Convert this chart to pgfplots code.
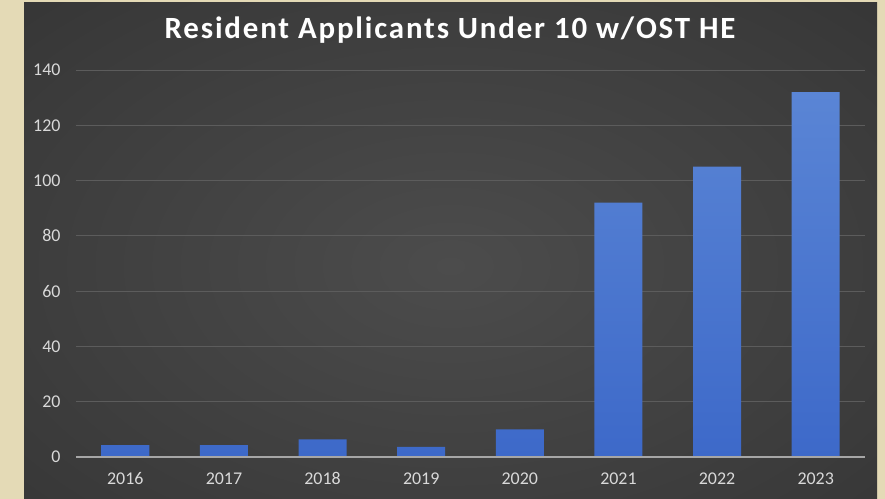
\documentclass[border=0pt]{standalone}
\usepackage{fontspec}
\setmainfont{Carlito}
\usepackage{pgfplots}
\pgfplotsset{compat=1.18}
\definecolor{beige}{HTML}{E4DAB6}
\definecolor{panelin}{HTML}{4C4C4C}
\definecolor{panelmid}{HTML}{3A3A3A}
\definecolor{panelout}{HTML}{1E1E1E}
\definecolor{gridc}{HTML}{5C5C5C}
\definecolor{tickc}{HTML}{D9D9D9}
\definecolor{bartop}{HTML}{5A85D5}
\definecolor{barbot}{HTML}{3D69C9}
\pgfdeclareradialshading{panelshade}{\pgfpoint{0bp}{0bp}}{%
  color(0bp)=(panelin); color(30bp)=(panelmid); color(72bp)=(panelout)}
\begin{document}
\begin{tikzpicture}[x=1bp,y=1bp]
% background: beige page and dark chart panel
\fill[beige] (0,0) rectangle (885,499);
\path[use as bounding box] (0,0) rectangle (885,499);
\shade[shading=panelshade] (24,-30) rectangle (877,496);
% title with a soft shadow
\newcommand\charttitle{\bfseries\fontsize{31}{34}\selectfont\addfontfeature{LetterSpace=6}Resident Applicants Under 10 w/OST HE}
\node[text=black!75] at (451.5,467.5) {\charttitle};
\node[text=white] at (450,469) {\charttitle};
\begin{axis}[
    at={(76bp,42bp)}, anchor=south west,
    scale only axis,
    width=789bp, height=387bp,
    xmin=-0.5, xmax=7.5,
    ymin=0, ymax=140,
    axis line style={draw=none},
    ytick={0,20,40,60,80,100,120,140},
    xtick={0,...,7},
    xticklabels={2016,2017,2018,2019,2020,2021,2022,2023},
    ymajorgrids=true,
    grid style={gridc, line width=0.8bp},
    major tick length=0pt,
    tick label style={text=tickc, font=\fontsize{18}{20}\selectfont},
    /pgf/number format/assume math mode=true,
    yticklabel style={xshift=-12bp},
    xticklabel style={yshift=-12bp},
    clip=false,
]
\addplot[ybar, bar width=48bp, draw=none, top color=bartop, bottom color=barbot]
    coordinates {
    (0,4.3)(1,4.3)(2,6.4)(3,3.7)(4,10)(5,92)(6,105)(7,132)
    };
\draw[black!35, line width=1.2bp] (axis cs:-0.5,0) -- (axis cs:7.5,0);
\end{axis}
\end{tikzpicture}
\end{document}
